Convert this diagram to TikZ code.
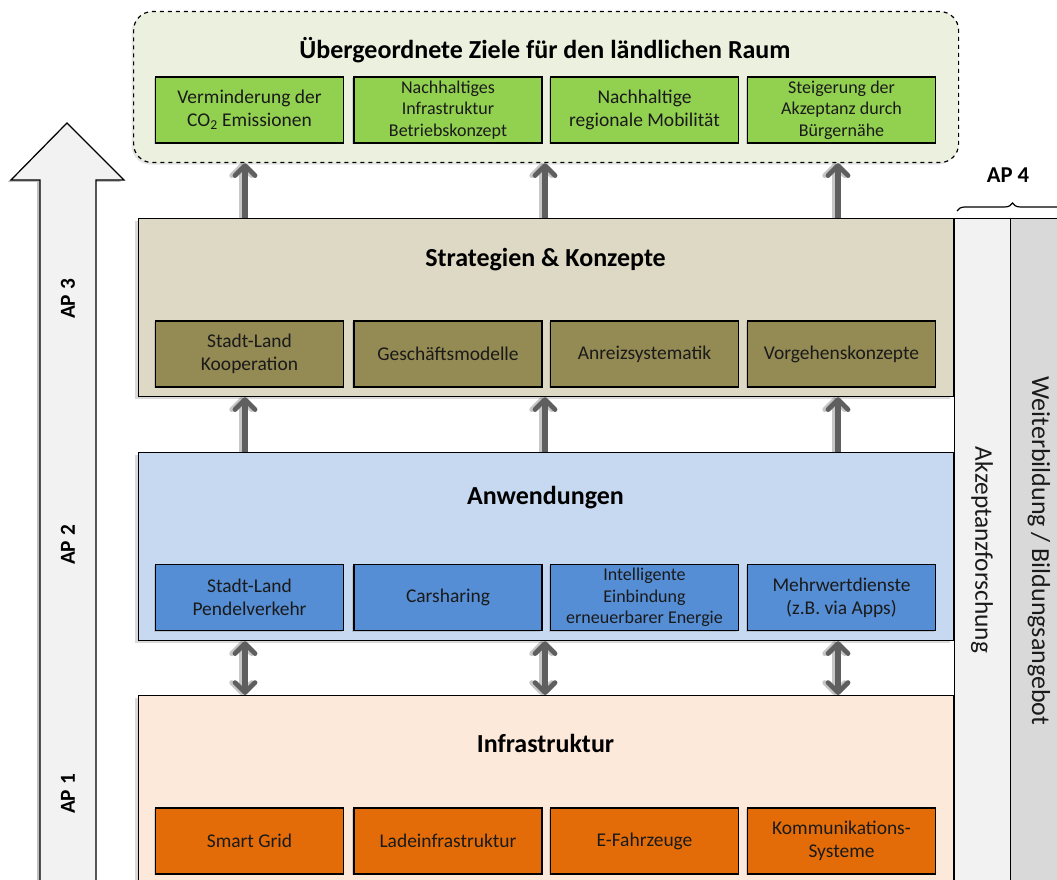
\documentclass[tikz,border=0pt]{standalone}
\usepackage{fontspec}
\setmainfont{Carlito}
\usetikzlibrary{arrows.meta,shadows,decorations.pathreplacing,calc}
\definecolor{goalbg}{HTML}{EBF0DF}
\definecolor{goalbox}{HTML}{92D050}
\definecolor{stratbg}{HTML}{DDD9C4}
\definecolor{stratbox}{HTML}{948A54}
\definecolor{anwbg}{HTML}{C6D9F1}
\definecolor{anwbox}{HTML}{558ED5}
\definecolor{infbg}{HTML}{FDE9D9}
\definecolor{infbox}{HTML}{E36C09}
\definecolor{colA}{HTML}{F2F2F2}
\definecolor{colB}{HTML}{D9D9D9}
\definecolor{arrgray}{HTML}{5F5F5F}
\definecolor{txt}{HTML}{1A1A1A}
\begin{document}
\begin{tikzpicture}[x=0.75pt,y=-0.75pt,
  layer/.style={draw=black, line width=0.9pt, anchor=north west, minimum width=611.25pt,
    inner sep=0pt, drop shadow={shadow xshift=-2.5pt, shadow yshift=-1.5pt, opacity=0.3}},
  subbox/.style={draw=black, line width=0.8pt, minimum width=141pt, minimum height=49.5pt,
    align=center, inner sep=1pt, text=txt, font=\fontsize{14.6}{17.5}\selectfont,
    drop shadow={shadow xshift=-1.2pt, shadow yshift=-1pt, opacity=0.3}},
  small/.style={font=\fontsize{13.5}{16.2}\selectfont},
  ttl/.style={font=\bfseries\fontsize{19.5}{22}\selectfont, text=black},
  aplbl/.style={font=\bfseries\fontsize{16}{18}\selectfont, rotate=90},
  tipA/.tip={Straight Barb[length=7.5pt,width=15pt,line width=3.6pt, round]},
  uparr/.style={draw=arrgray, line width=4.2pt, -tipA},
  dblarr/.style={draw=arrgray, line width=4.2pt, tipA-tipA},
  arrshadow/.style={draw=black, opacity=0.22, transform canvas={xshift=-2.5pt}}
]
\useasboundingbox (0,0) rectangle (1057,880);
\clip (0,0) rectangle (1057,880);

% big left arrow
\fill[black, opacity=0.25] (37,910) -- (37,182) -- (8,182) -- (64,125) -- (121,182) -- (93,182) -- (93,910) -- cycle;
\draw[fill=colA, line width=0.9pt] (40,910) -- (40,180) -- (11,180) -- (67,123) -- (124,180) -- (96,180) -- (96,910) -- cycle;
\node[aplbl] (ap3) at (68,299) {AP 3};
\node[aplbl] (ap2) at (68,545) {AP 2};
\node[aplbl] (ap1) at (68,794) {AP 1};

% right columns
\node[draw=black, line width=0.9pt, fill=colA, anchor=north west, minimum width=42pt, minimum height=520pt, inner sep=0pt] (akz) at (954,218) {};
\node[draw=black, line width=0.9pt, fill=colB, anchor=north west, minimum width=48pt, minimum height=520pt, inner sep=0pt] (wb) at (1010,218) {};
\node[rotate=-90, font=\fontsize{19}{21}\selectfont, text=txt] (akzt) at (982,550) {Akzeptanzforschung};
\node[rotate=-90, font=\fontsize{19.5}{21}\selectfont, text=txt] (wbt) at (1039,551) {Weiterbildung / Bildungsangebot};
\draw[line width=0.9pt, decorate, decoration={brace, amplitude=6pt, aspect=0.5}] (957,211) -- (1068,211);
\node[font=\bfseries\fontsize{17}{19}\selectfont] (ap4) at (1008,175) {AP 4};

% goals
\node[draw=black, dashed, line width=0.9pt, fill=goalbg, rounded corners=14pt, anchor=north west,
  minimum width=618.75pt, minimum height=113.25pt, inner sep=0pt,
  drop shadow={shadow xshift=-1.5pt, shadow yshift=-1.5pt, opacity=0.2}] (goals) at (133,11) {};
\node[ttl] (goalt) at (545,50) {Übergeordnete Ziele für den ländlichen Raum};
\node[subbox, fill=goalbox] (g1) at (249.5,110) {Verminderung der\\CO\textsubscript{2} Emissionen};
\node[subbox, fill=goalbox, small] (g2) at (448,110) {Nachhaltiges\\Infrastruktur\\Betriebskonzept};
\node[subbox, fill=goalbox] (g3) at (644.5,110) {Nachhaltige\\regionale Mobilität};
\node[subbox, fill=goalbox, small] (g4) at (841.5,110) {Steigerung der\\Akzeptanz durch\\Bürgernähe};

% strategies
\node[layer, fill=stratbg, minimum height=133.5pt] (strat) at (138,218) {};
\node[ttl] (stratt) at (545.5,260) {Strategien \& Konzepte};
\node[subbox, fill=stratbox] (s1) at (249.5,354) {Stadt-Land\\Kooperation};
\node[subbox, fill=stratbox] (s2) at (448,354) {Geschäftsmodelle};
\node[subbox, fill=stratbox] (s3) at (644.5,354) {Anreizsystematik};
\node[subbox, fill=stratbox] (s4) at (841.5,354) {Vorgehenskonzepte};

% applications
\node[layer, fill=anwbg, minimum height=141pt] (anw) at (138,452) {};
\node[ttl] (anwt) at (545.5,498) {Anwendungen};
\node[subbox, fill=anwbox] (a1) at (249.5,597.5) {Stadt-Land\\Pendelverkehr};
\node[subbox, fill=anwbox] (a2) at (448,597.5) {Carsharing};
\node[subbox, fill=anwbox, small] (a3) at (644.5,597.5) {Intelligente\\Einbindung\\erneuerbarer Energie};
\node[subbox, fill=anwbox] (a4) at (841.5,597.5) {Mehrwertdienste\\(z.B. via Apps)};

% infrastructure
\node[layer, fill=infbg, minimum height=165pt] (inf) at (138,695) {};
\node[ttl] (inft) at (545.5,743) {Infrastruktur};
\node[subbox, fill=infbox] (i1) at (249.5,841) {Smart Grid};
\node[subbox, fill=infbox] (i2) at (448,841) {Ladeinfrastruktur};
\node[subbox, fill=infbox] (i3) at (644.5,841) {E-Fahrzeuge};
\node[subbox, fill=infbox] (i4) at (841.5,841) {Kommunikations-\\Systeme};

% connectors
\coordinate (xl) at (245,0);
\coordinate (xm) at (545,0);
\coordinate (xr) at (838,0);
\foreach \c in {xl,xm,xr}{
  \draw[uparr, arrshadow] (\c |- strat.north) -- (\c |- goals.south);
  \draw[uparr, arrshadow] (\c |- anw.north) -- (\c |- strat.south);
  \draw[dblarr, arrshadow] (\c |- inf.north) -- (\c |- anw.south);
  \draw[uparr] (\c |- strat.north) -- (\c |- goals.south);
  \draw[uparr] (\c |- anw.north) -- (\c |- strat.south);
  \draw[dblarr] (\c |- inf.north) -- (\c |- anw.south);
}
\end{tikzpicture}
\end{document}
